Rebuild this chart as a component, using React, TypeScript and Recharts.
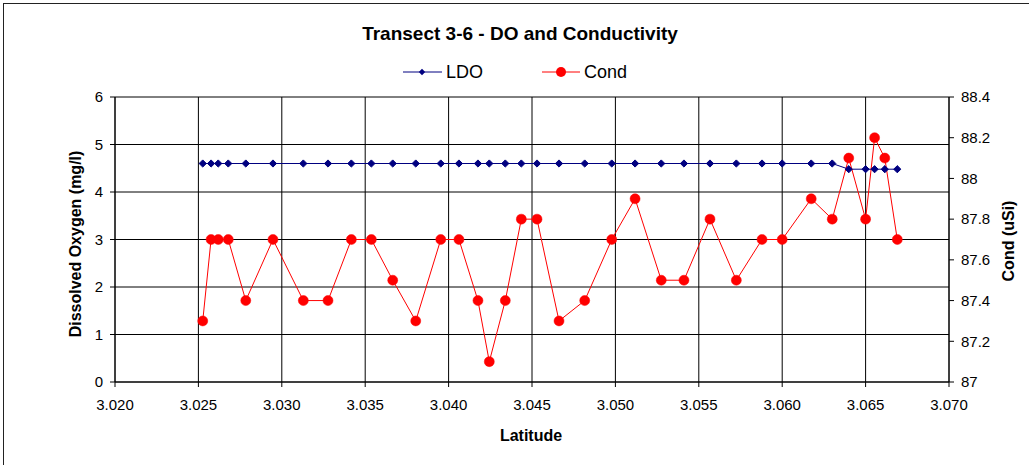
import React from "react";
import {
  LineChart,
  Line,
  XAxis,
  YAxis,
  CartesianGrid,
} from "recharts";

const LATITUDE = [
  3.02526, 3.02576, 3.02619, 3.02679, 3.02784, 3.02947, 3.03129, 3.03277,
  3.03417, 3.03537, 3.03665, 3.03803, 3.03953, 3.04062, 3.04176, 3.04244,
  3.0434, 3.04436, 3.0453, 3.04662, 3.04816, 3.04978, 3.05118, 3.05275,
  3.05411, 3.05567, 3.05725, 3.05879, 3.06, 3.06174, 3.063, 3.06399, 3.065,
  3.06554, 3.06615, 3.0669,
];

const LDO = [
  4.6, 4.6, 4.6, 4.6, 4.6, 4.6, 4.6, 4.6, 4.6, 4.6, 4.6, 4.6, 4.6, 4.6, 4.6,
  4.6, 4.6, 4.6, 4.6, 4.6, 4.6, 4.6, 4.6, 4.6, 4.6, 4.6, 4.6, 4.6, 4.6, 4.6,
  4.6, 4.48, 4.48, 4.48, 4.48, 4.48,
];

const COND = [
  87.3, 87.7, 87.7, 87.7, 87.4, 87.7, 87.4, 87.4, 87.7, 87.7, 87.5, 87.3,
  87.7, 87.7, 87.4, 87.1, 87.4, 87.8, 87.8, 87.3, 87.4, 87.7, 87.9, 87.5,
  87.5, 87.8, 87.5, 87.7, 87.7, 87.9, 87.8, 88.1, 87.8, 88.2, 88.1, 87.7,
];

const X_TICKS = [3.02, 3.025, 3.03, 3.035, 3.04, 3.045, 3.05, 3.055, 3.06, 3.065, 3.07];
const DO_TICKS = [0, 1, 2, 3, 4, 5, 6];
const COND_TICKS = [87, 87.2, 87.4, 87.6, 87.8, 88, 88.2, 88.4];

const data = LATITUDE.map((lat, i) => ({ lat, ldo: LDO[i], cond: COND[i] }));

const NAVY = "#000080";
const RED = "#FF0000";
const FONT = "'Liberation Sans', Arial, sans-serif";

const tickStyle = { fontSize: 15, fill: "#000", fontFamily: FONT };

const renderDiamond = (props: any) => {
  const { cx, cy, index } = props;
  const s = 3.6;
  return (
    <path
      key={`d-${index}`}
      d={`M${cx},${cy - s}L${cx + s},${cy}L${cx},${cy + s}L${cx - s},${cy}Z`}
      fill={NAVY}
      stroke={NAVY}
    />
  );
};

export default function App() {
  return (
    <div
      style={{
        position: "absolute",
        left: 0,
        top: 0,
        width: 1029,
        height: 465,
        background: "#fff",
        overflow: "hidden",
        fontFamily: FONT,
      }}
    >
      <div
        style={{
          position: "absolute",
          left: 3,
          top: 3,
          width: 1100,
          height: 600,
          borderLeft: "1px solid #222",
          borderTop: "1px solid #222",
        }}
      />
      <LineChart
        width={1029}
        height={465}
        data={data}
        margin={{ top: 97, right: 0, bottom: 0, left: 0 }}
        style={{ position: "absolute", left: 0, top: 0 }}
      >
        <CartesianGrid yAxisId="left" stroke="#000" strokeWidth={1} />
        <XAxis
          dataKey="lat"
          type="number"
          domain={[3.02, 3.07]}
          ticks={X_TICKS}
          tickFormatter={(v: number) => v.toFixed(3)}
          tick={tickStyle}
          tickSize={5}
          tickMargin={12}
          height={83}
          stroke="#000"
          allowDataOverflow
        />
        <YAxis
          yAxisId="left"
          domain={[0, 6]}
          ticks={DO_TICKS}
          tick={tickStyle}
          tickSize={5}
          tickMargin={7}
          width={115}
          stroke="#000"
        />
        <YAxis
          yAxisId="right"
          orientation="right"
          domain={[87, 88.4]}
          ticks={COND_TICKS}
          tick={tickStyle}
          tickSize={5}
          tickMargin={7}
          width={80}
          stroke="#000"
          allowDataOverflow
        />
        <Line
          yAxisId="left"
          dataKey="ldo"
          type="linear"
          stroke={NAVY}
          strokeWidth={1}
          dot={renderDiamond}
          activeDot={false}
          isAnimationActive={false}
        />
        <Line
          yAxisId="right"
          dataKey="cond"
          type="linear"
          stroke={RED}
          strokeWidth={1}
          dot={{ r: 5, fill: RED, stroke: RED, strokeWidth: 0.5 }}
          activeDot={false}
          isAnimationActive={false}
        />
      </LineChart>
      <svg
        width={1029}
        height={465}
        style={{ position: "absolute", left: 0, top: 0, pointerEvents: "none" }}
        fontFamily={FONT}
      >
        <text x={520} y={40} textAnchor="middle" fontSize={19} fontWeight="bold">
          Transect 3-6 - DO and Conductivity
        </text>
        <line x1={403} y1={72} x2={442} y2={72} stroke={NAVY} strokeWidth={1} />
        <path d="M422,68.8L425.2,72L422,75.2L418.8,72Z" fill={NAVY} />
        <text x={446} y={78} fontSize={18}>LDO</text>
        <line x1={542} y1={72} x2={580} y2={72} stroke={RED} strokeWidth={1} />
        <circle cx={561} cy={72} r={5} fill={RED} />
        <text x={584} y={78} fontSize={18}>Cond</text>
        <text x={531} y={441} textAnchor="middle" fontSize={16} fontWeight="bold">
          Latitude
        </text>
        <text
          x={81}
          y={244}
          textAnchor="middle"
          fontSize={16}
          fontWeight="bold"
          transform="rotate(-90 81 244)"
        >
          Dissolved Oxygen (mg/l)
        </text>
        <text
          x={1014}
          y={241}
          textAnchor="middle"
          fontSize={16}
          fontWeight="bold"
          transform="rotate(-90 1014 241)"
        >
          Cond (uSi)
        </text>
      </svg>
    </div>
  );
}
